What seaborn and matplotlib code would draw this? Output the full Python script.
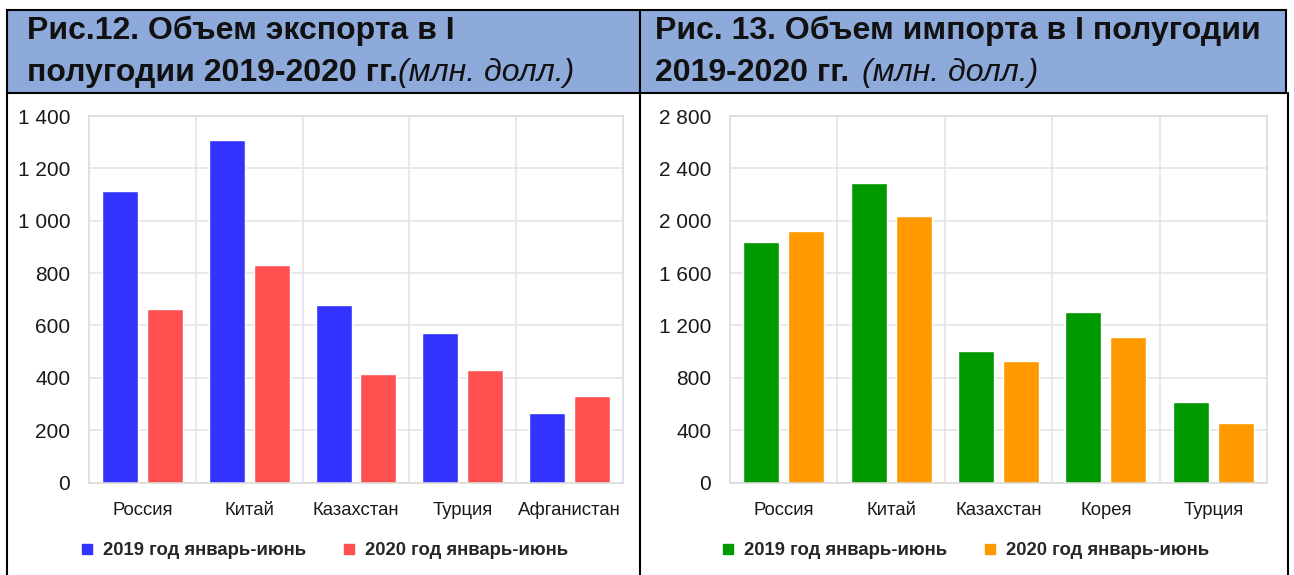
import matplotlib
matplotlib.use("Agg")
import matplotlib.pyplot as plt
import matplotlib.ticker as mticker
from matplotlib.patches import Rectangle
from matplotlib.lines import Line2D
import pandas as pd
import seaborn as sns

# данные
exp_countries = ["Россия", "Китай", "Казахстан", "Турция", "Афганистан"]
exp_2019 = [1113, 1309, 677, 570, 265]
exp_2020 = [663, 829, 413, 428, 331]

imp_countries = ["Россия", "Китай", "Казахстан", "Корея", "Турция"]
imp_2019 = [1837, 2291, 1002, 1300, 613]
imp_2020 = [1921, 2038, 926, 1109, 453]

series_names = ["2019 год январь-июнь", "2020 год январь-июнь"]
unit_text = "(млн. долл.)"

sns.set_theme(style="white")
plt.rcParams['font.family'] = ['Liberation Sans', 'DejaVu Sans']

W, H = 1294, 575
fig = plt.figure(figsize=(W / 100, H / 100), dpi=100)


def fx(px):
    return px / W


def fy(py):
    return 1 - py / H


def make_df(countries, a, b):
    return pd.DataFrame({
        'Страна': countries * 2,
        'Год': [series_names[0]] * len(countries) + [series_names[1]] * len(countries),
        'Значение': a + b,
    })


def thousands(v, pos):
    return f"{int(v):,}".replace(",", " ")


def draw_panel(left, right, countries, a, b, colors, ymax, step, leg_x):
    ax = fig.add_axes([fx(left), fy(482.5), fx(right - left), (482.5 - 116) / H])
    df = make_df(countries, a, b)
    sns.barplot(data=df, x='Страна', y='Значение', hue='Год', palette=colors,
                width=0.84, gap=0.2, ax=ax, legend=False, saturation=1)
    ax.set_xlim(-0.5, len(countries) - 0.5)
    ax.set_ylim(0, ymax)
    ax.yaxis.set_major_locator(mticker.MultipleLocator(step))
    ax.yaxis.set_major_formatter(mticker.FuncFormatter(thousands))
    ax.set_xticks(range(len(countries)))
    ax.set_xticks([i + 0.5 for i in range(len(countries) - 1)], minor=True)
    ax.grid(axis='y', which='major', color='#e3e3e3', lw=1.1)
    ax.grid(axis='x', which='minor', color='#e3e3e3', lw=1.1)
    ax.set_axisbelow(True)
    for s in ax.spines.values():
        s.set_color('#d9d9d9')
        s.set_linewidth(1.1)
    ax.tick_params(axis='both', which='both', length=0)
    ax.tick_params(axis='y', labelsize=15, pad=13.5)
    ax.tick_params(axis='x', labelsize=13.3, pad=14)
    ax.set_xlabel('')
    ax.set_ylabel('')
    for lab in ax.get_yticklabels() + ax.get_xticklabels():
        lab.set_color('#1a1a1a')
    handles = [Line2D([], [], marker='s', ls='', color=c, markersize=6.5) for c in colors]
    ax.legend(handles, series_names, loc='center', bbox_to_anchor=(leg_x, -0.186),
              ncol=2, frameon=False, handlelength=0.8, handletextpad=0.45,
              columnspacing=1.95, prop={'weight': 'bold', 'size': 13.3})
    return ax


draw_panel(89, 623, exp_countries, exp_2019, exp_2020, ['#3333ff', '#ff5050'], 1400, 200, 0.44)
draw_panel(730, 1267, imp_countries, imp_2019, imp_2020, ['#009900', '#ff9900'], 2800, 400, 0.437)

# шапки
for x0, x1 in [(7, 640), (640, 1286)]:
    fig.patches.append(Rectangle((fx(x0), fy(93)), fx(x1 - x0), (93 - 10) / H,
                                 transform=fig.transFigure, facecolor='#8eaadb',
                                 edgecolor='black', lw=1.5))

tfont = dict(weight='bold', size=23, color='#111111', va='baseline')
ufont = dict(style='italic', size=23, color='#111111', va='baseline')

fig.text(fx(27), fy(39), "Рис.12. Объем экспорта в I", **tfont)
t2 = fig.text(fx(27), fy(81), "полугодии 2019-2020 гг.", **tfont)
fig.text(fx(655), fy(39), "Рис. 13. Объем импорта в I полугодии", **tfont)
t4 = fig.text(fx(655), fy(81), "2019-2020 гг. ", **tfont)

fig.canvas.draw()
r = fig.canvas.get_renderer()
for t, gap in [(t2, 0), (t4, 4)]:
    bb = t.get_window_extent(r)
    fig.text((bb.x1 + gap) / W, fy(81), unit_text, **ufont)

# рамки панелей
for x in [7, 640, 1288]:
    fig.add_artist(Line2D([fx(x), fx(x)], [fy(93), 0], transform=fig.transFigure,
                          color='black', lw=1.5))

fig.savefig("out.png", dpi=100)
